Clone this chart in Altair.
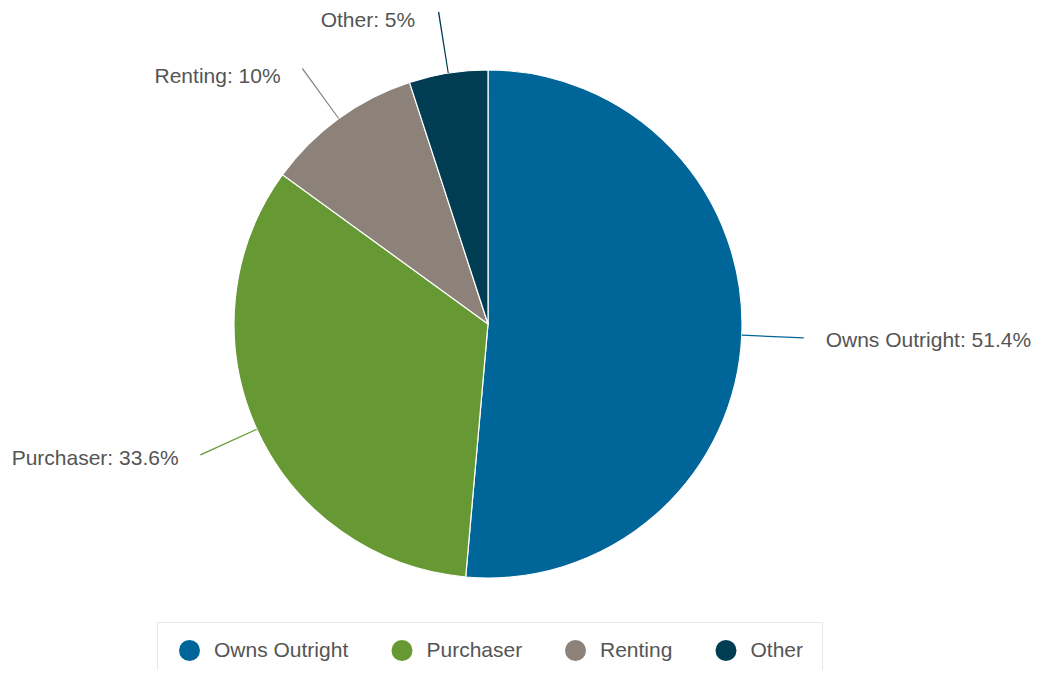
import altair as alt
import pandas as pd

categories = ["Owns Outright", "Purchaser", "Renting", "Other"]
values = [51.4, 33.6, 10, 5]
label_texts = ["Owns Outright: 51.4%", "Purchaser: 33.6%", "Renting: 10%", "Other: 5%"]
colors = ["#006699", "#669933", "#8c8279", "#003d52"]

df = pd.DataFrame({"category": categories, "value": values, "label": label_texts})
df["end"] = df["value"].cumsum()
df["start"] = df["end"] - df["value"]
df["mid"] = (df["start"] + df["end"]) / 2
df["c1"] = df["mid"] - 0.035
df["c2"] = df["mid"] + 0.035

theta_scale = alt.Scale(domain=[0, 100], range=[0, 6.283185307179586])
color_enc = alt.Color(
    "category:N",
    scale=alt.Scale(domain=categories, range=colors),
    sort=categories,
    legend=alt.Legend(
        title=None,
        orient="none",
        legendX=149,
        legendY=614,
        direction="horizontal",
        symbolType="circle",
        symbolSize=441,
        symbolStrokeWidth=0,
        symbolOffset=4,
        labelFontSize=21,
        labelFont="Liberation Sans",
        labelColor="#555555",
        labelOffset=14,
        columnPadding=38.5,
        padding=18,
        strokeColor="#e6e6e6",
        fillColor="#ffffff",
        cornerRadius=0,
    ),
)

cx = alt.value(480)
cy = alt.value(316)

base = alt.Chart(df)

pie = base.mark_arc(radius=254, stroke="#ffffff", strokeWidth=1.2).encode(
    theta=alt.Theta("start:Q", scale=theta_scale),
    theta2="end:Q",
    color=color_enc,
    x=cx,
    y=cy,
)

connectors = base.mark_arc(radius=316, radius2=254).encode(
    theta=alt.Theta("c1:Q", scale=theta_scale),
    theta2="c2:Q",
    color=alt.Color("category:N", scale=alt.Scale(domain=categories, range=colors), legend=None),
    x=cx,
    y=cy,
)

text_style = dict(baseline="middle", fontSize=21, font="Liberation Sans", color="#555555")

right_labels = base.transform_filter("datum.mid < 50").mark_text(
    radius=318, align="left", dx=20, dy=3, **text_style
).encode(
    theta=alt.Theta("mid:Q", scale=theta_scale),
    text="label:N",
    x=cx,
    y=cy,
)

left_labels = base.transform_filter("datum.mid >= 50 && datum.mid < 80").mark_text(
    radius=318, align="right", dx=-20, dy=3, **text_style
).encode(
    theta=alt.Theta("mid:Q", scale=theta_scale),
    text="label:N",
    x=cx,
    y=cy,
)

top_labels = base.transform_filter("datum.mid >= 80").mark_text(
    radius=312, align="right", dx=-24, dy=5, **text_style
).encode(
    theta=alt.Theta("mid:Q", scale=theta_scale),
    text="label:N",
    x=cx,
    y=cy,
)

chart = alt.layer(pie, connectors, right_labels, left_labels, top_labels).properties(
    width=1025,
    height=662,
    autosize=alt.AutoSizeParams(type="none"),
    padding=0,
).configure_view(stroke=None)

chart.save("out.html", embed_options={"renderer": "svg", "actions": False})
